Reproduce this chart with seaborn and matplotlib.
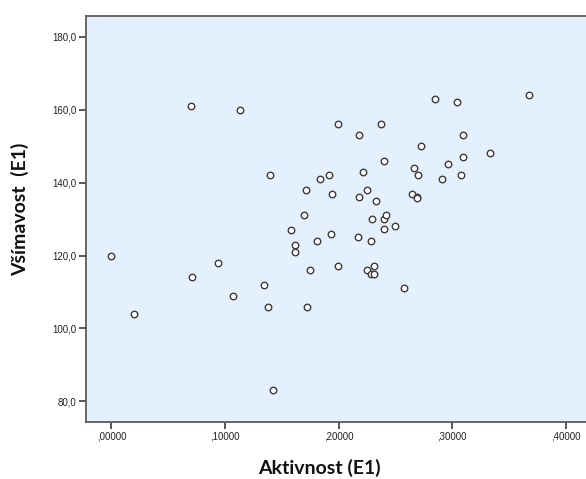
import matplotlib
matplotlib.use("Agg")
import matplotlib.pyplot as plt
import matplotlib.ticker as mticker
import seaborn as sns
import pandas as pd

# Aktivnost (E1) vs. Všímavost (E1)
aktivnost = [
    0.0000, 0.0197, 0.0697, 0.0710, 0.0937, 0.1068, 0.1130, 0.1347, 0.1374, 0.1397,
    0.1426, 0.1577, 0.1620, 0.1620, 0.1696, 0.1709, 0.1719, 0.1748, 0.1814, 0.1840,
    0.1919, 0.1932, 0.1942, 0.1995, 0.1998, 0.2172, 0.2182, 0.2182, 0.2218, 0.2248,
    0.2248, 0.2281, 0.2285, 0.2291, 0.2309, 0.2312, 0.2330, 0.2376, 0.2396, 0.2400,
    0.2400, 0.2414, 0.2498, 0.2576, 0.2644, 0.2662, 0.2687, 0.2690, 0.2698, 0.2724,
    0.2852, 0.2912, 0.2961, 0.3040, 0.3076, 0.3099, 0.3099, 0.3329, 0.3680,
]
vsimavost = [
    120.0, 104.0, 161.0, 114.0, 118.0, 109.0, 160.0, 112.0, 106.0, 142.0,
    83.0, 127.0, 123.0, 121.0, 131.0, 138.0, 106.0, 116.0, 124.0, 141.0,
    142.0, 126.0, 137.0, 156.0, 117.0, 125.0, 153.0, 136.0, 143.0, 138.0,
    116.0, 124.0, 115.0, 130.0, 117.0, 115.0, 135.0, 156.0, 146.0, 130.0,
    127.4, 131.0, 128.0, 111.0, 137.0, 144.0, 136.0, 135.8, 142.0, 150.0,
    163.0, 141.0, 145.0, 162.0, 142.0, 153.0, 147.0, 148.0, 164.0,
]

df = pd.DataFrame({"Aktivnost": aktivnost, "Vsimavost": vsimavost})

sns.set_style("white")
plt.rcParams["font.family"] = ["Liberation Sans", "DejaVu Sans"]

fig = plt.figure(figsize=(5.86, 4.79), dpi=100)
ax = fig.add_axes([0.1468, 0.1196, 0.8532, 0.8476])
ax.set_facecolor("#e5f0fe")

sns.scatterplot(data=df, x="Aktivnost", y="Vsimavost", ax=ax,
                s=22, color="white", edgecolor="#3c3c3c", linewidth=1.0,
                zorder=3)

ax.set_xlim(-0.0224, 0.4178)
ax.set_ylim(74.4, 185.8)
ax.set_xticks([0.0, 0.1, 0.2, 0.3, 0.4])
ax.set_yticks([80, 100, 120, 140, 160, 180])
ax.xaxis.set_major_formatter(mticker.FuncFormatter(
    lambda v, p: f"{v:.5f}".replace("0.", ",", 1)))
ax.yaxis.set_major_formatter(mticker.FuncFormatter(
    lambda v, p: f"{v:.1f}".replace(".", ",")))

for side in ["left", "bottom", "top"]:
    ax.spines[side].set_visible(True)
    ax.spines[side].set_color("#5a5a5a")
    ax.spines[side].set_linewidth(1.3)
ax.spines["right"].set_visible(False)

ax.tick_params(axis="both", which="major", direction="out", length=5,
               width=1.2, color="#3a3a3a", labelsize=7,
               labelcolor="#222222", pad=2, left=True, bottom=True)

ax.set_xlabel("")
ax.set_ylabel("")
fig.text(0.545, 0.023, "Aktivnost (E1)", ha="center", va="center",
         fontsize=14, fontweight="bold", family=["Lato", "DejaVu Sans"],
         color="#111111")
fig.text(0.034, 0.562, "Všímavost  (E1)", ha="center", va="center",
         rotation=90, fontsize=14, fontweight="bold",
         family=["Lato", "DejaVu Sans"], color="#111111")

fig.savefig("out.png", dpi=100)
